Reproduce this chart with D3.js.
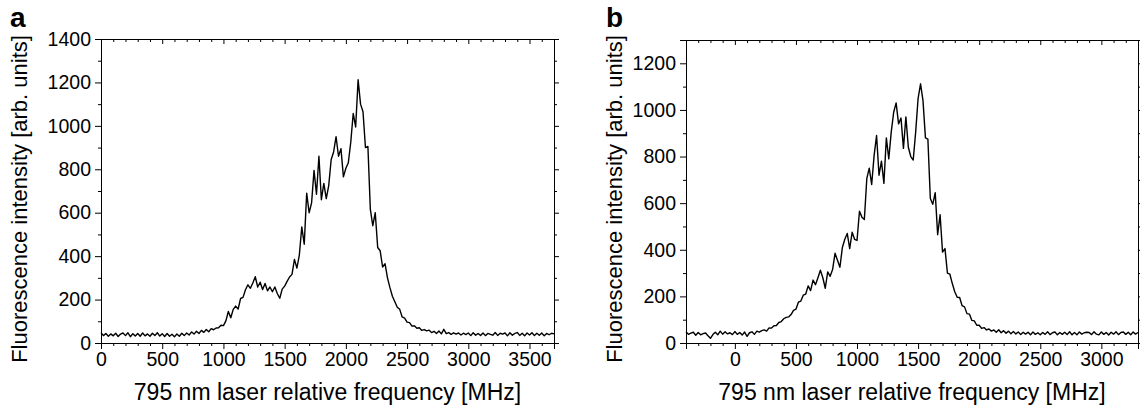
<!DOCTYPE html>
<html><head><meta charset="utf-8">
<script src="https://cdn.jsdelivr.net/npm/d3@7"></script>
<style>
html,body{margin:0;padding:0;background:#fff;}
svg{display:block;}
text{font-family:"Liberation Sans",Arial,sans-serif;fill:#000;}
</style></head>
<body><svg id="chart" width="1140" height="405"></svg>
<script>
// ---------- DATA ----------
// Panel a: frequency grid (MHz) sampled every 20 MHz from 0 to 3700
const freqA = d3.range(0, 3701, 20);
const intensityA = [
  48, 34, 44, 31, 42,   33, 45, 30, 41, 46,   34, 47, 29, 43, 32,   44, 31, 46, 33, 42,
  31, 45, 34, 47, 32,   43, 30, 44, 31, 40,   29, 41, 31, 45, 34,   46, 37, 51, 41, 54,
  44, 58, 49, 62, 52,   66, 61, 69, 70, 82,   80, 102, 145, 116, 155, 170, 156, 205, 210, 245,
  268, 252, 276, 305, 258, 280, 246, 274, 240, 258, 236, 258, 228, 206, 248, 262, 284, 304, 316, 385,
  345, 405, 535, 455, 690, 600, 645, 795, 685, 860, 660, 735, 665, 725, 845, 880, 950, 860, 895, 765,
  805, 830, 925, 1057, 995, 1212, 1100, 1065, 900, 905, 615, 540, 600, 440, 425, 350, 365, 300, 255, 215,
  190, 165, 155, 120, 115, 96, 94, 78, 79, 68,   70, 58, 62, 56, 59,   48, 54, 44, 55, 42,
  63, 43, 48, 40, 47,   41, 46, 37, 45, 39,   46, 34, 47, 36, 44,   35, 46, 34, 44, 40,
  36, 48, 35, 45, 41,   46, 33, 47, 36, 44,   48, 35, 45, 33, 46,   37, 47, 34, 45, 36,
  46, 33, 44, 38, 45,   42
];
// Panel b: frequency grid (MHz) sampled every 20 MHz from -400 to 3300
const freqB = d3.range(-400, 3301, 20);
const intensityB = [
  48, 37, 42, 46, 33,   45, 35, 40, 43, 31,   20, 36, 46, 35, 51,   38, 48, 39, 44, 36,
  49, 37, 45, 34, 47,   28, 44, 48, 37, 51,   47, 53, 56, 51, 65,   64, 74, 75, 88, 92,
  104, 110, 112, 122, 140, 145, 175, 180, 205, 210, 245, 225, 270, 250, 280, 312, 280, 235, 305, 286,
  315, 385, 355, 325, 410, 445, 470, 405, 475, 445, 440, 565, 540, 530, 705, 750, 680, 805, 890, 720,
  780, 685, 880, 790, 905, 990, 1030, 940, 965, 835, 970, 840, 800, 785, 905, 1050, 1112, 1040, 880, 875,
  620, 595, 645, 465, 550, 390, 405, 300, 295, 255, 220, 196, 195, 160, 155, 126, 124, 97, 95, 76,
  76, 63, 66, 56, 60,   51, 56, 46, 57, 44,   53, 42, 51, 40, 49,   39, 47, 36, 46, 38,
  46, 35, 47, 37, 44,   35, 45, 37, 48, 36,   44, 47, 35, 45, 37,   46, 36, 48, 35, 45,
  35, 47, 38, 44, 46,   45, 36, 48, 38, 35,   47, 37, 45, 34, 46,   38, 48, 36, 45, 47,
  37, 46, 35, 47, 38,   45
];
const xMajorA = [0, 500, 1000, 1500, 2000, 2500, 3000, 3500];
const xMajorB = [0, 500, 1000, 1500, 2000, 2500, 3000];
const yMajorA = [0, 200, 400, 600, 800, 1000, 1200, 1400];
const yMajorB = [0, 200, 400, 600, 800, 1000, 1200];
const xTitle = "795 nm laser relative frequency [MHz]";
const yTitle = "Fluorescence intensity [arb. units]";
const panelLabels = ["a", "b"];

// ---------- DRAW ----------
const svg = d3.select("#chart");
const fmt = d3.format("d");

function panel(cfg){
  const {left, right, top, bottom, xDom, yDom, xMajor, yMajor, freq, vals, label, labelX, titleX} = cfg;
  const x = d3.scaleLinear().domain(xDom).range([left, right]);
  const y = d3.scaleLinear().domain(yDom).range([bottom, top]);
  const xMinor = d3.range(Math.ceil(xDom[0]/100)*100, xDom[1]+1, 100).filter(v => v % 500 !== 0);
  const yMinor = d3.range(100, yDom[1]+1, 100).filter(v => v % 200 !== 0);
  const g = svg.append("g");

  const fs = "19.5px";
  // bottom axis
  const gb = g.append("g").attr("transform", `translate(0,${bottom})`)
    .call(d3.axisBottom(x).tickValues(xMajor).tickSize(6).tickPadding(3).tickFormat(fmt));
  gb.selectAll("text").style("font-size", fs);
  g.append("g").attr("transform", `translate(0,${bottom})`)
    .call(d3.axisBottom(x).tickValues(xMinor).tickSize(3).tickFormat(""))
    .select(".domain").remove();
  // top axis (ticks inward)
  g.append("g").attr("transform", `translate(0,${top})`)
    .call(d3.axisBottom(x).tickValues(xMajor).tickSize(5).tickFormat(""))
    .select(".domain").remove();
  g.append("g").attr("transform", `translate(0,${top})`)
    .call(d3.axisBottom(x).tickValues(xMinor).tickSize(3).tickFormat(""))
    .select(".domain").remove();
  // left axis
  const gl = g.append("g").attr("transform", `translate(${left},0)`)
    .call(d3.axisLeft(y).tickValues(yMajor).tickSize(6).tickPadding(4).tickFormat(fmt));
  gl.selectAll("text").style("font-size", fs);
  g.append("g").attr("transform", `translate(${left},0)`)
    .call(d3.axisLeft(y).tickValues(yMinor).tickSize(3).tickFormat(""))
    .select(".domain").remove();
  // right axis (ticks outward)
  g.append("g").attr("transform", `translate(${right},0)`)
    .call(d3.axisRight(y).tickValues(yMajor).tickSize(5).tickFormat(""))
    .select(".domain").remove();
  g.append("g").attr("transform", `translate(${right},0)`)
    .call(d3.axisRight(y).tickValues(yMinor).tickSize(3).tickFormat(""))
    .select(".domain").remove();
  // frame
  g.append("rect").attr("x", left + 0.5).attr("y", top + 0.5)
    .attr("width", right - left).attr("height", bottom - top)
    .attr("fill", "none").attr("stroke", "#000").attr("stroke-width", 1);
  g.selectAll(".tick line").attr("stroke", "#000");
  g.selectAll(".domain").attr("stroke", "#000");

  // data line
  const data = freq.map((f, i) => [f, vals[i]]);
  g.append("path").datum(data)
    .attr("fill", "none").attr("stroke", "#000").attr("stroke-width", 1.4)
    .attr("stroke-linejoin", "round")
    .attr("d", d3.line().x(d => x(d[0])).y(d => y(d[1])));

  // axis titles
  g.append("text").attr("x", (left + right) / 2).attr("y", 400)
    .attr("text-anchor", "middle").style("font-size", "23px").text(xTitle);
  g.append("text").attr("transform", `translate(${titleX},199) rotate(-90)`)
    .attr("text-anchor", "middle").style("font-size", "22px").text(yTitle);
  // panel label
  g.append("text").attr("x", labelX).attr("y", 27)
    .style("font-size", "28px").style("font-weight", "bold").text(label);
}

panel({left: 101, right: 554, top: 39, bottom: 343, xDom: [0, 3700], yDom: [0, 1400],
  xMajor: xMajorA, yMajor: yMajorA, freq: freqA, vals: intensityA,
  label: panelLabels[0], labelX: 10, titleX: 27});
panel({left: 686, right: 1138, top: 40, bottom: 343, xDom: [-400, 3300], yDom: [0, 1300],
  xMajor: xMajorB, yMajor: yMajorB, freq: freqB, vals: intensityB,
  label: panelLabels[1], labelX: 606, titleX: 622});
</script></body></html>
